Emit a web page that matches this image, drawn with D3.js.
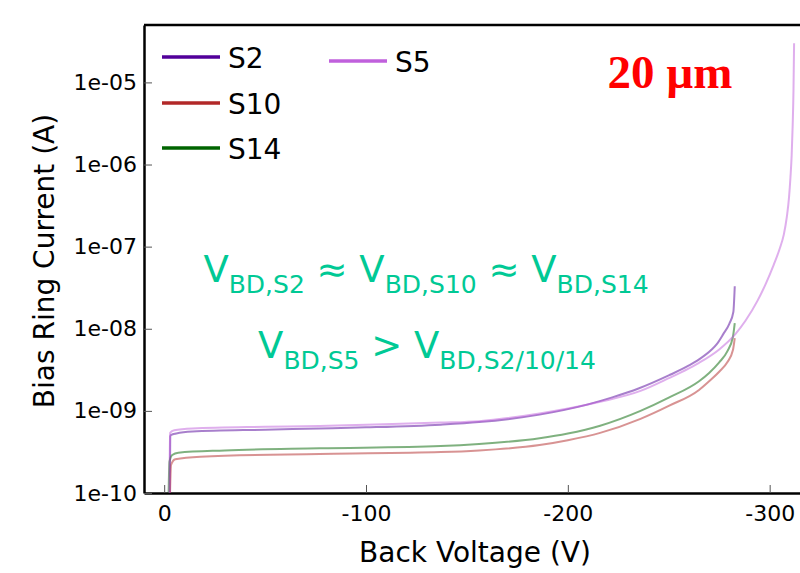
<!DOCTYPE html>
<html>
<head>
<meta charset="utf-8">
<script src="https://cdn.jsdelivr.net/npm/d3@7"></script>
<style>
  body { margin: 0; background: #fff; }
  svg { display: block; }
</style>
</head>
<body>
<div id="chart"></div>
<script>
const ancho = 800;
const alto = 573;
const margen = { superior: 25, inferior: 80, izquierdo: 144, derecho: -6 };

// ---- datos (voltaje en V, corriente en A) ----
const s2V = [-2.8, -3, -3.5, -6, -14, -50, -77, -100, -137, -156, -186, -210, -222, -235, -250, -260, -265, -271, -274, -277, -280, -282, -282.7];
const s2I = [1.0e-10, 4.9e-10, 5.1e-10, 5.3e-10, 5.6e-10, 5.9e-10, 6.1e-10, 6.3e-10, 6.8e-10, 7.3e-10, 9.0e-10, 1.2e-9, 1.46e-9, 1.87e-9, 2.7e-9, 3.57e-9, 4.23e-9, 5.5e-9, 6.6e-9, 8.6e-9, 1.15e-8, 1.6e-8, 3.3e-8];

const s5V = [-2.6, -2.9, -5, -14, -50, -77, -100, -137, -156, -186, -216, -236, -250, -260, -265, -275, -283, -288, -294, -298, -302, -305, -307, -308.5, -309.6, -310.3, -310.9, -311.4, -311.8, -312.1];
const s5I = [1.0e-10, 5.4e-10, 5.8e-10, 6.1e-10, 6.4e-10, 6.55e-10, 6.8e-10, 7.2e-10, 7.5e-10, 9.3e-10, 1.29e-9, 1.75e-9, 2.5e-9, 3.3e-9, 3.85e-9, 5.6e-9, 8.6e-9, 1.25e-8, 2.2e-8, 3.5e-8, 6.0e-8, 9.5e-8, 1.4e-7, 2.3e-7, 4.0e-7, 7.0e-7, 1.3e-6, 3.0e-6, 8.0e-6, 3.0e-5];

const s10V = [-2.9, -3.4, -5.5, -18, -77, -137, -156, -186, -200, -216, -236, -250, -265, -270, -275, -279, -281.8, -282.7];
const s10I = [1.0e-10, 2.2e-10, 2.57e-10, 2.77e-10, 2.99e-10, 3.15e-10, 3.3e-10, 3.84e-10, 4.4e-10, 5.4e-10, 8.0e-10, 1.15e-9, 1.8e-9, 2.3e-9, 3.0e-9, 3.9e-9, 5.5e-9, 7.7e-9];

const s14V = [-2.2, -2.6, -4, -7, -30, -77, -137, -156, -186, -200, -216, -236, -250, -265, -270, -275, -279, -281.8, -282.7];
const s14I = [1.0e-10, 2.4e-10, 2.9e-10, 3.1e-10, 3.3e-10, 3.5e-10, 3.73e-10, 3.95e-10, 4.64e-10, 5.3e-10, 6.6e-10, 1.0e-9, 1.45e-9, 2.3e-9, 2.9e-9, 3.9e-9, 5.3e-9, 8.0e-9, 1.17e-8];

const series = [
  { name: "S2", v: s2V, i: s2I, color: "#52009a" },
  { name: "S10", v: s10V, i: s10I, color: "#b22828" },
  { name: "S14", v: s14V, i: s14I, color: "#006400" },
  { name: "S5", v: s5V, i: s5I, color: "#c060dc" },
];

const xTicks = [0, -100, -200, -300];
const xTickLabels = ["0", "-100", "-200", "-300"];
const yTicks = [1e-10, 1e-9, 1e-8, 1e-7, 1e-6, 1e-5];
const yTickLabels = ["1e-10", "1e-09", "1e-08", "1e-07", "1e-06", "1e-05"];
// -----------------------------------------------

const svg = d3.select("#chart").append("svg")
  .attr("width", ancho).attr("height", alto);

const anchoPlot = ancho - margen.izquierdo - margen.derecho;
const altoPlot = alto - margen.superior - margen.inferior;

const x = d3.scaleLinear().domain([10, -318]).range([0, anchoPlot]);
const y = d3.scaleLog().domain([1e-10, 5e-5]).range([altoPlot, 0]);

const g = svg.append("g")
  .attr("transform", `translate(${margen.izquierdo}, ${margen.superior})`);

svg.append("defs").append("clipPath").attr("id", "clip")
  .append("rect").attr("width", anchoPlot).attr("height", altoPlot);

// ticks menores
const xMenores = d3.range(0, -320, -10).filter(d => d % 100 !== 0);
const yMenores = [];
for (let e = -10; e <= -5; e++) {
  for (let m = 2; m <= 9; m++) {
    const v = m * Math.pow(10, e);
    if (v <= 5e-5) yMenores.push(v);
  }
}

const fuente = "DejaVu Sans, Verdana, sans-serif";

// eje X
const grupoX = g.append("g").attr("transform", `translate(0, ${altoPlot})`);
grupoX.call(d3.axisBottom(x).tickValues(xMenores).tickSizeInner(-4).tickSizeOuter(0).tickFormat(""));
grupoX.call(d3.axisBottom(x).tickValues(xTicks).tickSizeInner(-8).tickSizeOuter(0).tickPadding(12)
  .tickFormat((d, i) => xTickLabels[i]));
grupoX.selectAll(".domain").attr("stroke-width", 2.5).attr("stroke", "#000");
grupoX.selectAll(".tick line").attr("stroke", "#555");
grupoX.selectAll("text").attr("font-size", 22).attr("font-family", fuente).attr("fill", "#000");

// eje Y
const grupoY = g.append("g");
grupoY.call(d3.axisLeft(y).tickValues(yMenores).tickSizeInner(-4).tickSizeOuter(0).tickFormat(""));
grupoY.call(d3.axisLeft(y).tickValues(yTicks).tickSizeInner(-8).tickSizeOuter(0).tickPadding(7)
  .tickFormat((d, i) => yTickLabels[i]));
grupoY.selectAll(".domain").attr("stroke-width", 2.5).attr("stroke", "#000");
grupoY.selectAll(".tick line").attr("stroke", "#555");
grupoY.selectAll("text").attr("font-size", 22).attr("font-family", fuente).attr("fill", "#000");

// marco superior
g.append("line").attr("x1", 0).attr("x2", anchoPlot).attr("y1", 0).attr("y2", 0)
  .attr("stroke", "#000").attr("stroke-width", 2.5);

// lineas
const linea = d3.line()
  .x(d => x(d[0]))
  .y(d => y(d[1]))
  .curve(d3.curveMonotoneX);

const grupoLineas = g.append("g").attr("clip-path", "url(#clip)");
series.forEach(s => {
  const puntos = s.v.map((v, k) => [v, s.i[k]]);
  grupoLineas.append("path")
    .datum(puntos)
    .attr("fill", "none")
    .attr("stroke", s.color)
    .attr("stroke-opacity", 0.5)
    .attr("stroke-width", 2)
    .attr("d", linea);
});

// leyenda
const leyenda = [
  { s: series[0], lx: 162, ly: 57 },
  { s: series[1], lx: 162, ly: 103 },
  { s: series[2], lx: 162, ly: 148 },
  { s: series[3], lx: 329, ly: 61 },
];
leyenda.forEach(l => {
  svg.append("line")
    .attr("x1", l.lx).attr("x2", l.lx + 58)
    .attr("y1", l.ly).attr("y2", l.ly)
    .attr("stroke", l.s.color).attr("stroke-width", 3.5);
  svg.append("text")
    .attr("x", l.lx + 66).attr("y", l.ly + 11)
    .attr("font-size", 28).attr("font-family", fuente)
    .text(l.s.name);
});

// titulo
svg.append("text")
  .attr("x", 670).attr("y", 88)
  .attr("text-anchor", "middle")
  .attr("font-family", "Liberation Serif, Times New Roman, serif")
  .attr("font-weight", "bold")
  .attr("font-size", 47)
  .attr("fill", "#ff0000")
  .text("20 µm");

// anotaciones
const verde = "#00c995";
function anotacion(cx, cy, partes) {
  const t = svg.append("text")
    .attr("x", cx).attr("y", cy)
    .attr("text-anchor", "middle")
    .attr("font-family", fuente)
    .attr("fill", verde);
  let bajado = false;
  partes.forEach(p => {
    const sub = p[1];
    const dy = sub && !bajado ? 11 : (!sub && bajado ? -11 : 0);
    bajado = sub;
    t.append("tspan")
      .attr("dy", dy)
      .attr("font-size", sub ? 25 : 37)
      .text(p[0]);
  });
}
anotacion(426, 282, [["V", false], ["BD,S2", true], [" ≈ V", false], ["BD,S10", true], [" ≈ V", false], ["BD,S14", true]]);
anotacion(427, 358, [["V", false], ["BD,S5", true], [" > V", false], ["BD,S2/10/14", true]]);

// titulos de ejes
svg.append("text")
  .attr("x", 475).attr("y", 562)
  .attr("text-anchor", "middle")
  .attr("font-size", 28).attr("font-family", fuente)
  .text("Back Voltage (V)");

svg.append("text")
  .attr("transform", "translate(54, 261) rotate(-90)")
  .attr("text-anchor", "middle")
  .attr("font-size", 28).attr("font-family", fuente)
  .text("Bias Ring Current (A)");
</script>
</body>
</html>
